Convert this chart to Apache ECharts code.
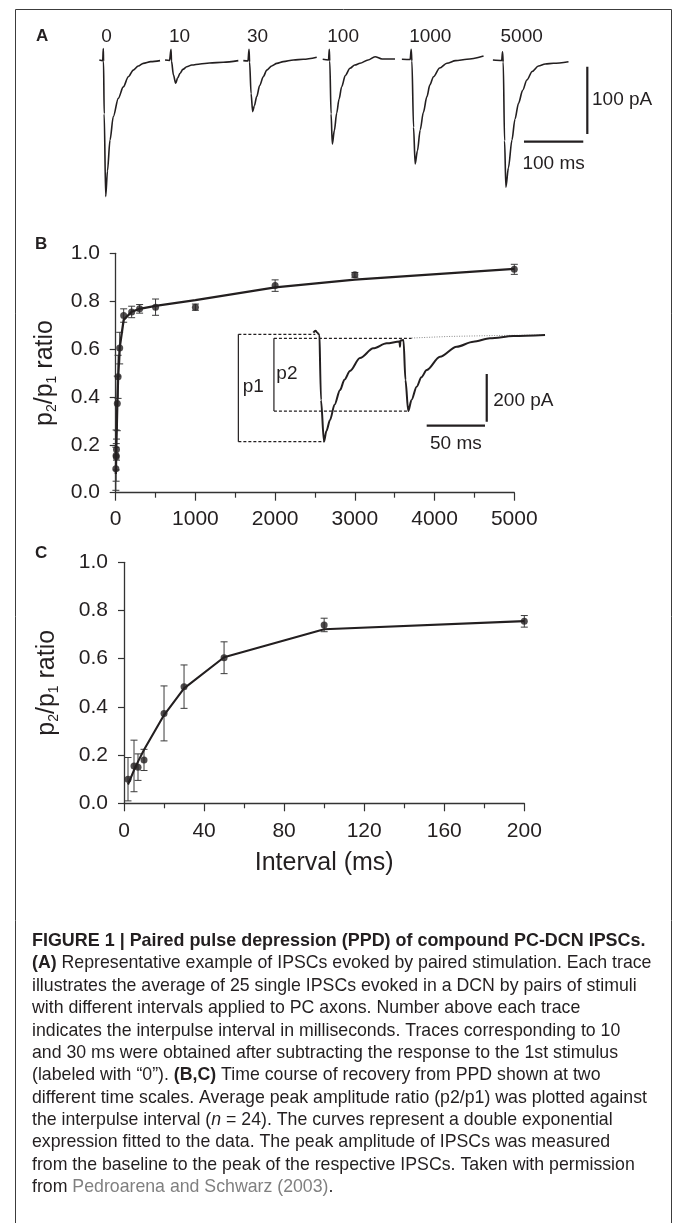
<!DOCTYPE html>
<html><head><meta charset="utf-8">
<script src="https://cdn.jsdelivr.net/npm/echarts@6/dist/echarts.min.js"></script>
<style>html,body{margin:0;padding:0;background:#fff}#c{width:673px;height:1223px}</style>
</head><body><div id="c"></div>
<script>
// ================= DATA =================
// Panels B & C: paired-pulse ratio vs interpulse interval
const intervalMs = [2, 5, 7, 10, 20, 30, 50, 100, 200, 300, 500, 1000, 2000, 3000, 5000];
const ratioMean  = [0.10, 0.155, 0.15, 0.18, 0.373, 0.484, 0.604, 0.74, 0.755, 0.768, 0.775, 0.775, 0.865, 0.91, 0.933];
const ratioSem   = [0.09, 0.107, 0.055, 0.044, 0.114, 0.09, 0.066, 0.028, 0.024, 0.018, 0.034, 0.013, 0.024, 0.01, 0.021];
const fitRatio   = [0.078, 0.138, 0.173, 0.222, 0.366, 0.477, 0.606, 0.722, 0.756, 0.768, 0.78, 0.804, 0.858, 0.89, 0.935];
const xTicksB = [0, 1000, 2000, 3000, 4000, 5000];
const xTicksC = [0, 40, 80, 120, 160, 200];
const yTicks  = [0.0, 0.2, 0.4, 0.6, 0.8, 1.0];

// Panel A: IPSC traces, time (ms, from stimulus) and current (pA)
const traceLabels = ['0', '10', '30', '100', '1000', '5000'];
const trace0T = [-6.7, -1, 0, 0.4, 1.5, 4.05, 7, 11.3, 16.9, 25.3, 33.7, 42.2, 50.6, 59, 67.5, 80, 95.7];
const trace0I = [0, -1, 17, -2, -80, -203, -165, -119, -84, -57, -40, -25, -15, -9, -5, -2.5, -1];
const trace10T = [-10.1, -2.5, 0, 0.8, 4, 7.9, 11, 15.2, 20, 26.5, 35, 48.9, 65, 88.2, 113.5];
const trace10I = [0, -0.7, 16, -1.5, -22, -34.6, -27, -19.8, -14, -10, -7.5, -5.9, -4.5, -3.4, -1];
const trace30T = [-9.6, -1.7, 0, 1, 3.5, 6.2, 9, 13, 18, 24.1, 30, 38.3, 47, 57.8, 75, 91.6, 114.2];
const trace30I = [-1, -1.5, 16, -3, -50, -76.8, -68, -54.5, -38, -24.8, -15, -8.9, -5, -2.5, 0, 1, 4];
const trace100T = [-11.1, -1.3, 0, 0.8, 3, 5.1, 8.5, 12.5, 16.5, 20.9, 27, 34.9, 43, 51.8, 65.3, 77.1, 88.9, 110.8];
const trace100I = [1, 0, 16, -1.5, -80, -124.8, -105, -78.8, -58, -39.7, -23, -12.3, -7.5, -4.9, 0, 4.9, 1.5, 1.5];
const trace1000T = [-15.7, -1.7, 0, 1.2, 4, 6.7, 10.5, 15.2, 20.5, 26.5, 31.5, 37.6, 48, 60.2, 75, 94, 122];
const trace1000I = [1, 0.7, 16, -1.5, -100, -154.5, -135, -104, -78, -54.5, -37, -24.8, -12, -4.9, -1, 1, 5.9];
const trace5000T = [-16.2, -1.3, 0, 1.2, 3.5, 5.7, 10, 15.9, 21, 27, 34, 41.1, 50, 60.7, 72, 86, 111.3];
const trace5000I = [0, -0.7, 12.3, -3, -120, -189, -160, -119, -88, -64.3, -45, -29.7, -17, -8.9, -6, -4.9, -2.5];

// Panel B inset: paired-pulse trace (ms, pA)
const insetT = [-5.7, -3.8, -2.5, -0.4, 0, 0.86, 3.43, 5.5, 8.6, 12.5, 17.2, 21, 25.7, 34.3, 45.7, 57.2, 68.2, 68.6, 69.0, 71.6, 73.3, 75.7, 78.5, 82.9, 87, 91.5, 102.9, 117.2, 131.5, 145.8, 165.8, 193];
const insetI = [6.7, 15, 8, -2.9, -2.9, -275, -450, -405, -359, -295, -233.5, -190, -154, -99.4, -58.7, -37.7, -30, -52, -26, -24, -191.6, -321.6, -275, -219.7, -180, -149.7, -93.9, -52, -31, -16.8, -7.1, -2.9];
const p1Base = 0, p1Peak = -450, p2Base = -16.8, p2Peak = -321.6;
const extrapT = [78.6, 110, 150, 193];
const extrapI = [-15.5, -9, -5, -2.9];

// ================= LAYOUT (not data) =================
const FONT = '"Liberation Sans", Arial, Helvetica, sans-serif';
const INK = '#231f20';
const AX = '#333333';
const traceOffsetMs = [14, 128.2, 259.7, 395.1, 533.2, 687.2];
const traceT = [trace0T, trace10T, trace30T, trace100T, trace1000T, trace5000T];
const traceI = [trace0I, trace10I, trace30I, trace100I, trace1000I, trace5000I];

const zip = (a, b) => a.map((v, i) => [v, b[i]]);

function errorBars(xi, yi, xs, m, e) {
  return {
    type: 'custom', xAxisIndex: xi, yAxisIndex: yi, z: 3, silent: true,
    data: xs.map((x, i) => [x, m[i] - e[i], m[i] + e[i]]),
    renderItem(params, api) {
      const x = api.value(0);
      const top = api.coord([x, api.value(2)]);
      const bot = api.coord([x, api.value(1)]);
      const w = 3.5, st = { stroke: '#3a3a3a', lineWidth: 1 };
      return { type: 'group', children: [
        { type: 'line', shape: { x1: top[0], y1: top[1], x2: bot[0], y2: bot[1] }, style: st },
        { type: 'line', shape: { x1: top[0] - w, y1: top[1], x2: top[0] + w, y2: top[1] }, style: st },
        { type: 'line', shape: { x1: bot[0] - w, y1: bot[1], x2: bot[0] + w, y2: bot[1] }, style: st }
      ]};
    }
  };
}

const axisCommon = {
  axisLine: { show: true, lineStyle: { color: AX, width: 1.3 } },
  axisTick: { show: true, length: 8, lineStyle: { color: AX, width: 1.2 } },
  splitLine: { show: false },
  axisLabel: { color: INK, fontSize: 21, fontFamily: FONT, margin: 12, formatter: v => String(v) }
};
const yName = '{n|p}{s|2}{n|/p}{s|1}{n| ratio}';
const yNameStyle = { rich: {
  n: { fontSize: 25, fontFamily: FONT, color: INK, lineHeight: 28, verticalAlign: 'middle' },
  s: { fontSize: 14, fontFamily: FONT, color: INK, lineHeight: 14, verticalAlign: 'bottom' }
}};

const bMask = intervalMs.map(x => x <= 200);
const cX = intervalMs.filter((x, i) => bMask[i]);
const cM = ratioMean.filter((x, i) => bMask[i]);
const cE = ratioSem.filter((x, i) => bMask[i]);
const cF = fitRatio.filter((x, i) => bMask[i]);

const hiddenAxis = (min, max, gi) => ({ gridIndex: gi, type: 'value', min, max, show: false });

const series = [];
// Panel A traces
traceT.forEach((ts, k) => {
  series.push({ type: 'line', xAxisIndex: 0, yAxisIndex: 0, symbol: 'none', smooth: 0.3, smoothMonotone: 'x',
    data: ts.map((t, i) => [traceOffsetMs[k] + t, traceI[k][i]]),
    lineStyle: { color: INK, width: 1.6 }, clip: false });
});
// Panel A scale bars (100 ms, 100 pA)
series.push({ type: 'line', xAxisIndex: 0, yAxisIndex: 0, symbol: 'none', data: [[723.4, -121.4], [823.4, -121.4]], lineStyle: { color: INK, width: 2.2 }, clip: false });
series.push({ type: 'line', xAxisIndex: 0, yAxisIndex: 0, symbol: 'none', data: [[830.2, -10], [830.2, -110]], lineStyle: { color: INK, width: 2.2 }, clip: false });

// Panel B
series.push(errorBars(1, 1, intervalMs, ratioMean, ratioSem));
series.push({ type: 'line', xAxisIndex: 1, yAxisIndex: 1, symbol: 'none', data: zip(intervalMs, fitRatio), lineStyle: { color: INK, width: 2.3 }, z: 4 });
series.push({ type: 'scatter', xAxisIndex: 1, yAxisIndex: 1, symbolSize: 7, data: zip(intervalMs, ratioMean), itemStyle: { color: INK }, z: 5 });

// Inset (grid 2)
const dash = { color: INK, width: 1.2, type: [3, 2] };
const solid = { color: INK, width: 1.2 };
const insetLines = [
  [[[-70, p1Base], [-4, p1Base]], dash],
  [[[-70, p1Base], [-70, p1Peak]], solid],
  [[[-70, p1Peak], [3.43, p1Peak]], dash],
  [[[-39.5, p2Base], [78.6, p2Base]], dash],
  [[[-39.5, p2Base], [-39.5, p2Peak]], solid],
  [[[-39.5, p2Peak], [75.7, p2Peak]], dash],
  [zip(extrapT, extrapI), { color: '#8a8a8a', width: 1, type: [1, 1.5] }],
  [[[91.5, -383], [141.5, -383]], { color: INK, width: 2.2 }],
  [[[143, -166.5], [143, -366.5]], { color: INK, width: 2.2 }]
];
insetLines.forEach(([d, ls]) => series.push({ type: 'line', xAxisIndex: 2, yAxisIndex: 2, symbol: 'none', data: d, lineStyle: ls, clip: false, z: 2 }));
series.push({ type: 'line', xAxisIndex: 2, yAxisIndex: 2, symbol: 'none', smooth: 0.3, smoothMonotone: 'x', data: zip(insetT, insetI), lineStyle: { color: INK, width: 2 }, clip: false, z: 3 });

// Panel C
series.push(errorBars(3, 3, cX, cM, cE));
series.push({ type: 'line', xAxisIndex: 3, yAxisIndex: 3, symbol: 'none', data: zip(cX, cF), lineStyle: { color: INK, width: 2.1 }, z: 4 });
series.push({ type: 'scatter', xAxisIndex: 3, yAxisIndex: 3, symbolSize: 7, data: zip(cX, cM), itemStyle: { color: INK }, z: 5 });

const option = {
  animation: false,
  backgroundColor: '#fff',
  grid: [
    { left: 95, top: 39.8, width: 533.7, height: 168.25 },
    { left: 115.7, top: 253.3, width: 398.6, height: 239.4 },
    { left: 226.7, top: 322.4, width: 326.5, height: 131.2 },
    { left: 124, top: 562.3, width: 400.3, height: 241 }
  ],
  xAxis: [
    hiddenAxis(0, 900, 0),
    Object.assign({}, axisCommon, { gridIndex: 1, type: 'value', min: xTicksB[0], max: xTicksB[xTicksB.length - 1], interval: 1000, offset: 4,
      minorTick: { show: true, splitNumber: 2, length: 5, lineStyle: { color: AX, width: 1.2 } } }),
    hiddenAxis(-80, 200, 2),
    Object.assign({}, axisCommon, { gridIndex: 3, type: 'value', min: xTicksC[0], max: xTicksC[xTicksC.length - 1], interval: 40, offset: 5,
      minorTick: { show: true, splitNumber: 2, length: 5, lineStyle: { color: AX, width: 1.2 } },
      name: 'Interval (ms)', nameLocation: 'middle', nameGap: 42,
      nameTextStyle: { fontSize: 25, fontFamily: FONT, color: INK } })
  ],
  yAxis: [
    hiddenAxis(-220, 30, 0),
    Object.assign({}, axisCommon, { gridIndex: 1, type: 'value', min: yTicks[0], max: yTicks[yTicks.length - 1], interval: 0.2, offset: 4.7,
      axisTick: { show: true, length: 6, lineStyle: { color: AX, width: 1.2 } },
      axisLabel: Object.assign({}, axisCommon.axisLabel, { margin: 11, formatter: v => v.toFixed(1) }),
      name: yName, nameLocation: 'middle', nameRotate: 90, nameGap: 52, nameTextStyle: yNameStyle }),
    hiddenAxis(-500, 50, 2),
    Object.assign({}, axisCommon, { gridIndex: 3, type: 'value', min: yTicks[0], max: yTicks[yTicks.length - 1], interval: 0.2, offset: 5,
      axisTick: { show: true, length: 6, lineStyle: { color: AX, width: 1.2 } },
      axisLabel: Object.assign({}, axisCommon.axisLabel, { margin: 11, formatter: v => v.toFixed(1) }),
      name: yName, nameLocation: 'middle', nameRotate: 90, nameGap: 58, nameTextStyle: yNameStyle })
  ],
  series
};

const chart = echarts.init(document.getElementById('c'), null, { renderer: 'canvas' });
chart.setOption(option);

// ================= TEXT ANNOTATIONS =================
const P = (g, v) => chart.convertToPixel({ gridIndex: g }, v);
const txt = (x, y, text, o) => ({ type: 'text', x, y, silent: true,
  style: Object.assign({ text, fontSize: 19, fontFamily: FONT, fill: INK, align: 'left', verticalAlign: 'middle' }, o || {}) });

const g = [];
g.push({ type: 'rect', shape: { x: 15.5, y: 9.5, width: 656, height: 1240 }, style: { fill: 'none', stroke: '#3c3c3c', lineWidth: 1 }, silent: true });
g.push(txt(36, 36, 'A', { fontWeight: 'bold', fontSize: 17 }));
g.push(txt(35, 244, 'B', { fontWeight: 'bold', fontSize: 17 }));
g.push(txt(35, 553, 'C', { fontWeight: 'bold', fontSize: 17 }));
traceLabels.forEach((lab, k) => {
  const p = P(0, [traceOffsetMs[k] - 3.4, 34.2]);
  g.push(txt(p[0], p[1], lab));
});
let p = P(0, [773.4, -153.5]); g.push(txt(p[0], p[1], '100 ms', { align: 'center' }));
p = P(0, [838.1, -59.4]); g.push(txt(p[0], p[1], '100 pA'));
p = P(2, [-66.3, -219.7]); g.push(txt(p[0], p[1], 'p1'));
p = P(2, [-37.4, -166.5]); g.push(txt(p[0], p[1], 'p2'));
p = P(2, [148.6, -279.7]); g.push(txt(p[0], p[1], '200 pA'));
p = P(2, [116.5, -460]); g.push(txt(p[0], p[1], '50 ms', { align: 'center' }));

// Caption
const ctx = document.createElement('canvas').getContext('2d');
function fit(text, weight, target) { ctx.font = weight + ' 100px ' + FONT; return 100 * target / ctx.measureText(text).width; }
const capTitle = 'FIGURE 1 | Paired pulse depression (PPD) of compound PC-DCN IPSCs.';
const capLines = [
  '{b|(A)} Representative example of IPSCs evoked by paired stimulation. Each trace',
  'illustrates the average of 25 single IPSCs evoked in a DCN by pairs of stimuli',
  'with different intervals applied to PC axons. Number above each trace',
  'indicates the interpulse interval in milliseconds. Traces corresponding to 10',
  'and 30 ms were obtained after subtracting the response to the 1st stimulus',
  '(labeled with \u201c0\u201d). {b|(B,C)} Time course of recovery from PPD shown at two',
  'different time scales. Average peak amplitude ratio (p2/p1) was plotted against',
  'the interpulse interval ({i|n} = 24). The curves represent a double exponential',
  'expression fitted to the data. The peak amplitude of IPSCs was measured',
  'from the baseline to the peak of the respective IPSCs. Taken with permission',
  'from {g|Pedroarena and Schwarz (2003)}.'
];
const titleSize = fit(capTitle, 'bold', 614);
const bodySize = fit(capLines[6], 'normal', 615);
g.push(txt(32, 941, capTitle, { fontWeight: 'bold', fontSize: titleSize }));
capLines.forEach((line, i) => {
  g.push(txt(32, 963.5 + i * 22.37, line, { fontSize: bodySize, rich: {
    b: { fontWeight: 'bold', fontSize: bodySize, fontFamily: FONT, fill: INK },
    i: { fontStyle: 'italic', fontSize: bodySize, fontFamily: FONT, fill: INK },
    g: { fontSize: bodySize, fontFamily: FONT, fill: '#808080' }
  }}));
});
chart.setOption({ graphic: g });
</script></body></html>
